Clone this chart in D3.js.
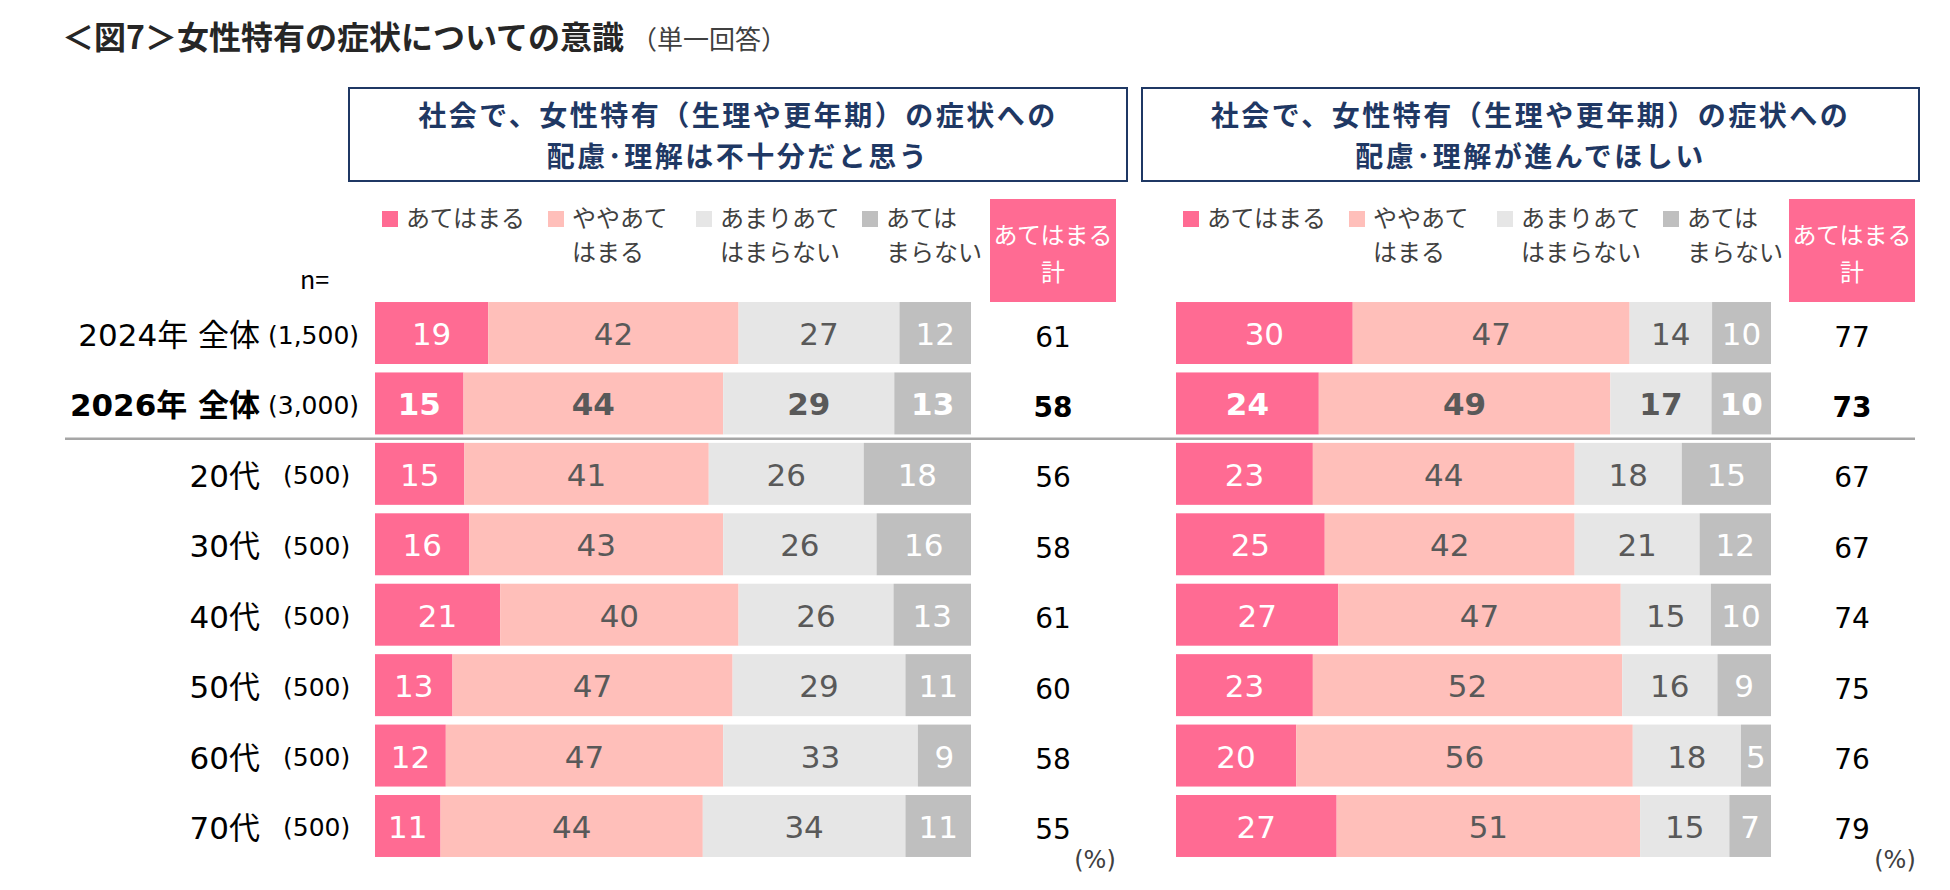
<!DOCTYPE html>
<html lang="ja">
<head>
<meta charset="utf-8">
<script src="https://cdn.jsdelivr.net/npm/d3@7"></script>
<style>
  body { margin: 0; background: #fff; }
  svg { display: block; font-family: "Noto Sans CJK JP", sans-serif; }
  .num { font-family: "DejaVu Sans", "Noto Sans CJK JP", sans-serif; }
</style>
</head>
<body>
<div id="chart"></div>
<script>
// DATA
const chartTitle = '＜図7＞女性特有の症状についての意識';
const chartSubtitle = '（単一回答）';

const rowLabels = ['2024年 全体', '2026年 全体', '20代', '30代', '40代', '50代', '60代', '70代'];
const rowN = ['(1,500)', '(3,000)', '(500)', '(500)', '(500)', '(500)', '(500)', '(500)'];

const categories = ['あてはまる', 'ややあてはまる', 'あまりあてはまらない', 'あてはまらない'];
const legendLines = [['あてはまる'], ['ややあて', 'はまる'], ['あまりあて', 'はまらない'], ['あては', 'まらない']];
const totalHeader = ['あてはまる', '計'];

const leftTitle = ['社会で、女性特有（生理や更年期）の症状への', '配慮･理解は不十分だと思う'];
const leftValues = [
  [19, 42, 27, 12],
  [15, 44, 29, 13],
  [15, 41, 26, 18],
  [16, 43, 26, 16],
  [21, 40, 26, 13],
  [13, 47, 29, 11],
  [12, 47, 33, 9],
  [11, 44, 34, 11]
];
const leftTotals = [61, 58, 56, 58, 61, 60, 58, 55];

const rightTitle = ['社会で、女性特有（生理や更年期）の症状への', '配慮･理解が進んでほしい'];
const rightValues = [
  [30, 47, 14, 10],
  [24, 49, 17, 10],
  [23, 44, 18, 15],
  [25, 42, 21, 12],
  [27, 47, 15, 10],
  [23, 52, 16, 9],
  [20, 56, 18, 5],
  [27, 51, 15, 7]
];
const rightTotals = [77, 73, 67, 67, 74, 75, 76, 79];

// STYLE
const colors = ['#ff6b93', '#ffbfba', '#e6e6e6', '#bfbfbf'];
const labelColors = ['#ffffff', '#595959', '#595959', '#ffffff'];
const navy = '#1f3864';

const width = 1950;
const height = 890;

const panels = [
  { title: leftTitle, values: leftValues, totals: leftTotals,
    barX: [375, 971], boxX: [349, 1127], legendX: 382, totalBox: [990, 1116], pctX: 1095 },
  { title: rightTitle, values: rightValues, totals: rightTotals,
    barX: [1176, 1771], boxX: [1142, 1919], legendX: 1183, totalBox: [1789, 1915], pctX: 1895 }
];
const legendOffsets = [0, 166, 314, 480];

const svg = d3.select('#chart').append('svg')
  .attr('width', width)
  .attr('height', height);

svg.append('rect').attr('width', width).attr('height', height).attr('fill', '#fff');

// TITLE
svg.append('text')
  .attr('x', 62).attr('y', 35)
  .attr('dominant-baseline', 'central')
  .style('font-size', '32px').style('font-weight', 700)
  .attr('fill', '#262626')
  .text(chartTitle);
svg.append('text')
  .attr('x', 631).attr('y', 37)
  .attr('dominant-baseline', 'central')
  .style('font-size', '26px')
  .attr('fill', '#404040')
  .text(chartSubtitle);

// ROWS
const yScale = d3.scaleBand()
  .domain(d3.range(rowLabels.length))
  .range([297.8, 861.2])
  .paddingInner(0.12)
  .paddingOuter(0.06);
const bw = yScale.bandwidth();

svg.append('text')
  .attr('x', 300).attr('y', 278)
  .attr('dominant-baseline', 'central')
  .style('font-size', '25px')
  .attr('fill', '#000')
  .text('n=');

const rowG = svg.selectAll('g.row-label')
  .data(rowLabels)
  .enter()
  .append('g')
  .attr('class', 'row-label');

rowG.append('text')
  .attr('class', 'num')
  .attr('x', 260)
  .attr('y', (d, i) => yScale(i) + bw / 2 + 2)
  .attr('text-anchor', 'end')
  .attr('dominant-baseline', 'central')
  .style('font-size', '31px')
  .style('font-weight', (d, i) => i === 1 ? 700 : 400)
  .attr('fill', '#000')
  .text(d => d);

rowG.append('text')
  .attr('class', 'num')
  .attr('x', (d, i) => i < 2 ? 268 : 283)
  .attr('y', (d, i) => yScale(i) + bw / 2 + 2)
  .attr('dominant-baseline', 'central')
  .style('font-size', '25px')
  .attr('fill', '#000')
  .text((d, i) => rowN[i]);

// separator between overall rows and age groups
const sepY = yScale(1) + bw + (yScale.step() - bw) / 2;
svg.append('line')
  .attr('x1', 65).attr('x2', 1915)
  .attr('y1', sepY).attr('y2', sepY)
  .attr('stroke', '#a6a6a6')
  .attr('stroke-width', 2.5);

// stack one row to 100%
function stackRow(vals) {
  const sum = d3.sum(vals);
  let acc = 0;
  return vals.map((v, k) => {
    const s = acc;
    acc += v / sum * 100;
    return { k: k, v: v, s: s, e: acc };
  });
}

// PANELS
panels.forEach(p => {
  const g = svg.append('g');

  // header box
  g.append('rect')
    .attr('x', p.boxX[0]).attr('y', 88)
    .attr('width', p.boxX[1] - p.boxX[0]).attr('height', 93)
    .attr('fill', '#fff')
    .attr('stroke', navy)
    .attr('stroke-width', 2);
  g.selectAll('text.box-title')
    .data(p.title)
    .enter()
    .append('text')
    .attr('class', 'box-title')
    .attr('x', (p.boxX[0] + p.boxX[1]) / 2)
    .attr('y', (d, i) => 114 + i * 41)
    .attr('text-anchor', 'middle')
    .attr('dominant-baseline', 'central')
    .style('font-size', '28px').style('font-weight', 700)
    .style('letter-spacing', '2.5px')
    .attr('fill', navy)
    .text(d => d);

  // legend
  const leg = g.selectAll('g.legend')
    .data(categories)
    .enter()
    .append('g')
    .attr('class', 'legend')
    .attr('transform', (d, k) => `translate(${p.legendX + legendOffsets[k]}, 0)`);
  leg.append('rect')
    .attr('x', 0).attr('y', 211)
    .attr('width', 16).attr('height', 16)
    .attr('fill', (d, k) => colors[k]);
  leg.selectAll('text')
    .data((d, k) => legendLines[k])
    .enter()
    .append('text')
    .attr('x', 24)
    .attr('y', (d, j) => 216 + j * 34)
    .attr('dominant-baseline', 'central')
    .style('font-size', '24px')
    .attr('fill', '#404040')
    .text(d => d);

  // total header
  g.append('rect')
    .attr('x', p.totalBox[0]).attr('y', 199)
    .attr('width', p.totalBox[1] - p.totalBox[0]).attr('height', 103)
    .attr('fill', colors[0]);
  const totalX = (p.totalBox[0] + p.totalBox[1]) / 2;
  g.selectAll('text.total-head')
    .data(totalHeader)
    .enter()
    .append('text')
    .attr('class', 'total-head')
    .attr('x', totalX)
    .attr('y', (d, i) => 233 + i * 37)
    .attr('text-anchor', 'middle')
    .attr('dominant-baseline', 'central')
    .style('font-size', '24px')
    .attr('fill', '#fff')
    .text(d => d);

  // bars
  const xScale = d3.scaleLinear().domain([0, 100]).range(p.barX);

  const rows = g.selectAll('g.bar-row')
    .data(p.values)
    .enter()
    .append('g')
    .attr('class', 'bar-row')
    .attr('transform', (d, i) => `translate(0, ${yScale(i)})`);

  const segs = rows.selectAll('g.seg')
    .data((d, i) => stackRow(d).map(s => Object.assign(s, { row: i })))
    .enter()
    .append('g')
    .attr('class', 'seg');

  segs.append('rect')
    .attr('x', d => xScale(d.s))
    .attr('y', 0)
    .attr('width', d => xScale(d.e) - xScale(d.s))
    .attr('height', bw)
    .attr('fill', d => colors[d.k]);

  segs.append('text')
    .attr('class', 'num')
    .attr('x', d => xScale((d.s + d.e) / 2))
    .attr('y', bw / 2 + 1)
    .attr('text-anchor', 'middle')
    .attr('dominant-baseline', 'central')
    .style('font-size', '31px')
    .style('font-weight', d => d.row === 1 ? 700 : 400)
    .attr('fill', d => labelColors[d.k])
    .text(d => d.v);

  // totals
  g.selectAll('text.total')
    .data(p.totals)
    .enter()
    .append('text')
    .attr('class', 'total num')
    .attr('x', totalX)
    .attr('y', (d, i) => yScale(i) + bw / 2 + 4)
    .attr('text-anchor', 'middle')
    .attr('dominant-baseline', 'central')
    .style('font-size', '28px')
    .style('font-weight', (d, i) => i === 1 ? 700 : 400)
    .attr('fill', '#000')
    .text(d => d);

  g.append('text')
    .attr('class', 'num')
    .attr('x', p.pctX).attr('y', 860)
    .attr('text-anchor', 'middle')
    .attr('dominant-baseline', 'central')
    .style('font-size', '24px')
    .attr('fill', '#404040')
    .text('(%)');
});
</script>
</body>
</html>
